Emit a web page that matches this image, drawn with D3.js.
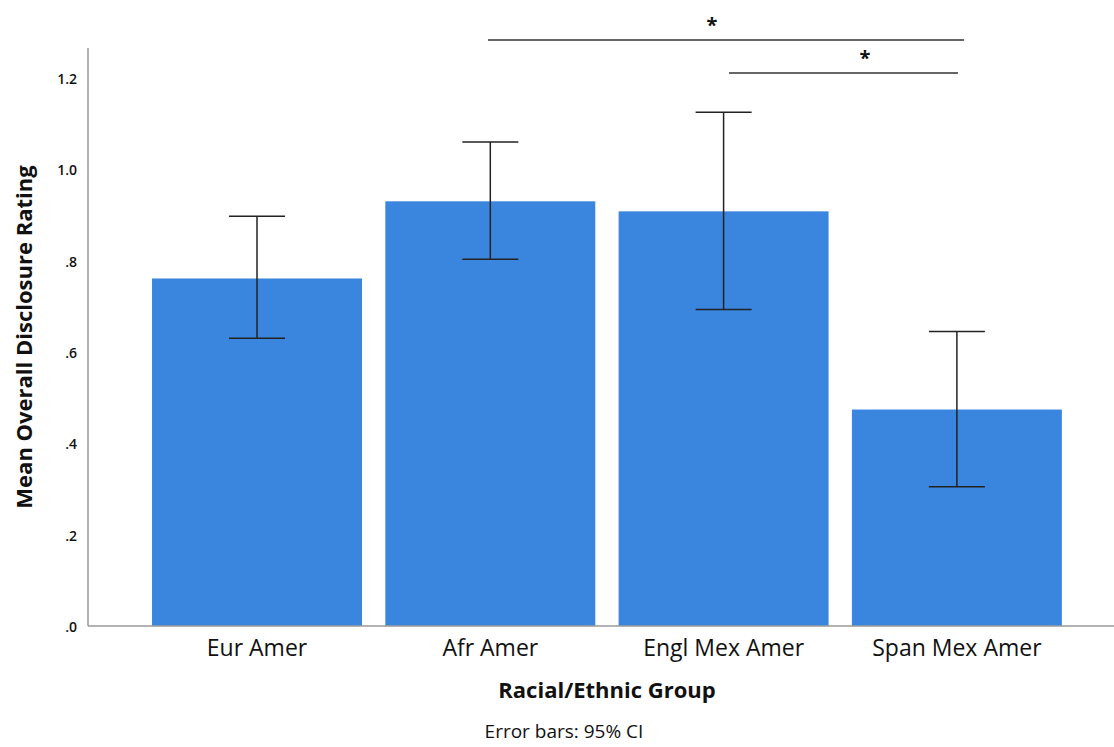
<!DOCTYPE html>
<html>
<head>
<meta charset="utf-8">
<script src="https://cdn.jsdelivr.net/npm/d3@7"></script>
<style>
  body { margin: 0; background: #fff; }
  text { font-family: "Open Sans", "DejaVu Sans", sans-serif; fill: #111; }
</style>
</head>
<body>
<svg></svg>
<script>
// chart data
let groups = ['Eur Amer', 'Afr Amer', 'Engl Mex Amer', 'Span Mex Amer']
let means = [0.761, 0.930, 0.908, 0.474]
let ciLow = [0.630, 0.803, 0.693, 0.305]
let ciHigh = [0.897, 1.060, 1.125, 0.645]
let yTicks = [0, 0.2, 0.4, 0.6, 0.8, 1.0, 1.2]
// significance brackets
let sigFrom = ['Afr Amer', 'Engl Mex Amer']
let sigTo = ['Span Mex Amer', 'Span Mex Amer']

let width = 1114, height = 747

let svg = d3.select('svg').attr('width', width).attr('height', height)

let x = d3.scaleBand().domain(groups).range([128.7, 1085.2]).paddingInner(0.1).paddingOuter(0.1)
let y = d3.scaleLinear().domain([0, 1.2]).range([626, 78])

// bars
svg.selectAll('rect.bar')
  .data(groups)
  .enter().append('rect')
  .attr('class', 'bar')
  .attr('x', d => x(d))
  .attr('y', (d, i) => y(means[i]))
  .attr('width', x.bandwidth())
  .attr('height', (d, i) => y(0) - y(means[i]))
  .attr('fill', '#3a86de')

// axes lines (no ticks)
svg.append('line')
  .attr('x1', 88).attr('x2', 88).attr('y1', 48).attr('y2', y(0))
  .attr('stroke', '#9a9a9a').attr('stroke-width', 1.5)
svg.append('line')
  .attr('x1', 88).attr('x2', width).attr('y1', y(0)).attr('y2', y(0))
  .attr('stroke', '#9a9a9a').attr('stroke-width', 1.5)

// y tick labels
let fmt = d => d === 0 ? '.0' : (d < 1 ? d3.format('.1f')(d).replace(/^0/, '') : d3.format('.1f')(d))
svg.selectAll('text.ytick')
  .data(yTicks)
  .enter().append('text')
  .attr('class', 'ytick')
  .attr('x', 77)
  .attr('y', d => y(d) + 6)
  .attr('text-anchor', 'end')
  .attr('font-size', 14)
  .attr('font-weight', 600)
  .text(fmt)

// x category labels
svg.selectAll('text.xtick')
  .data(groups)
  .enter().append('text')
  .attr('class', 'xtick')
  .attr('x', d => x(d) + x.bandwidth() / 2)
  .attr('y', 656)
  .attr('text-anchor', 'middle')
  .attr('font-size', 23)
  .text(d => d)

// error bars
let cap = 28
let eb = svg.selectAll('g.eb')
  .data(groups)
  .enter().append('g')
  .attr('class', 'eb')
  .attr('stroke', '#222')
  .attr('stroke-width', 1.5)
eb.append('line')
  .attr('x1', d => x(d) + x.bandwidth() / 2).attr('x2', d => x(d) + x.bandwidth() / 2)
  .attr('y1', (d, i) => y(ciLow[i])).attr('y2', (d, i) => y(ciHigh[i]))
eb.append('line')
  .attr('x1', d => x(d) + x.bandwidth() / 2 - cap).attr('x2', d => x(d) + x.bandwidth() / 2 + cap)
  .attr('y1', (d, i) => y(ciHigh[i])).attr('y2', (d, i) => y(ciHigh[i]))
eb.append('line')
  .attr('x1', d => x(d) + x.bandwidth() / 2 - cap).attr('x2', d => x(d) + x.bandwidth() / 2 + cap)
  .attr('y1', (d, i) => y(ciLow[i])).attr('y2', (d, i) => y(ciLow[i]))

// significance lines
let sigY = [40, 73]
let sigStart = [488, 729]
let sigEnd = [964, 958]
let sigMid = [712, 865]
sigFrom.forEach(function(g, i) {
  svg.append('line')
    .attr('x1', sigStart[i]).attr('x2', sigEnd[i]).attr('y1', sigY[i]).attr('y2', sigY[i])
    .attr('stroke', '#333').attr('stroke-width', 1.5)
  svg.append('text')
    .attr('x', sigMid[i]).attr('y', sigY[i] - 8)
    .attr('text-anchor', 'middle')
    .attr('font-size', 20)
    .attr('font-weight', 'bold')
    .text('*')
})

// axis titles
svg.append('text')
  .attr('transform', 'translate(32,337) rotate(-90)')
  .attr('text-anchor', 'middle')
  .attr('font-size', 22)
  .attr('font-weight', 'bold')
  .text('Mean Overall Disclosure Rating')

svg.append('text')
  .attr('x', 607).attr('y', 698)
  .attr('text-anchor', 'middle')
  .attr('font-size', 22)
  .attr('font-weight', 'bold')
  .text('Racial/Ethnic Group')

svg.append('text')
  .attr('x', 564).attr('y', 738)
  .attr('text-anchor', 'middle')
  .attr('font-size', 19)
  .text('Error bars: 95% CI')
</script>
</body>
</html>
